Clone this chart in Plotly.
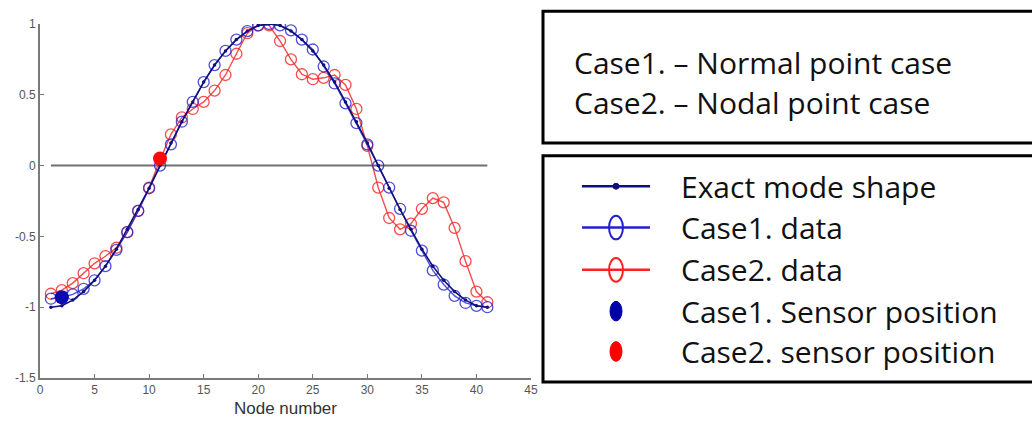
import plotly.graph_objects as go

# ---------------- data ----------------
nodes = list(range(1, 42))
exact_mode = [-1.00, -0.99, -0.95, -0.89, -0.81, -0.71, -0.59, -0.45, -0.31, -0.16,
              0.00, 0.16, 0.31, 0.45, 0.59, 0.71, 0.81, 0.89, 0.95, 0.99,
              1.00, 0.99, 0.95, 0.89, 0.81, 0.71, 0.59, 0.45, 0.31, 0.16,
              0.00, -0.16, -0.31, -0.45, -0.59, -0.71, -0.81, -0.89, -0.95, -0.99, -1.00]
case1_data = [-0.94, -0.93, -0.91, -0.87, -0.81, -0.71, -0.595, -0.47, -0.32, -0.16,
              0.00, 0.15, 0.31, 0.45, 0.59, 0.71, 0.81, 0.89, 0.95, 0.99,
              1.00, 0.99, 0.955, 0.89, 0.82, 0.70, 0.58, 0.44, 0.30, 0.15,
              0.00, -0.155, -0.305, -0.46, -0.60, -0.74, -0.84, -0.92, -0.97, -0.99, -1.00]
case2_data = [-0.905, -0.88, -0.83, -0.76, -0.69, -0.64, -0.58, -0.47, -0.32, -0.155,
              0.04, 0.22, 0.34, 0.40, 0.45, 0.53, 0.64, 0.79, 0.935, 0.99,
              0.99, 0.88, 0.75, 0.645, 0.61, 0.62, 0.64, 0.57, 0.40, 0.14,
              -0.155, -0.37, -0.45, -0.41, -0.305, -0.23, -0.26, -0.44, -0.675, -0.89, -0.965]
case1_sensor_x = [2]
case1_sensor_y = [-0.93]
case2_sensor_x = [11]
case2_sensor_y = [0.05]
zero_line_x = [1, 41]
zero_line_y = [0, 0]

x_ticks = [0, 5, 10, 15, 20, 25, 30, 35, 40, 45]
y_ticks = [-1.5, -1, -0.5, 0, 0.5, 1]
y_tick_text = ["-1.5", "-1", "-0.5", "0", "0.5", "1"]

info_lines = ["Case1. \u2013 Normal point case", "Case2. \u2013 Nodal point case"]
legend_names = ["Exact mode shape", "Case1. data", "Case2. data",
                "Case1. Sensor position", "Case2. sensor position"]

NAVY = "#10107a"
BLUE = "rgba(35,35,210,0.8)"
RED = "rgba(245,45,45,0.85)"

# ---------------- figure ----------------
W, H = 1032, 427
PL, PR, PT, PB = 40, 531, 24, 384


def px(xr):
    return (xr - PL) / (PR - PL)


def py(yr):
    return (PB - yr) / (PB - PT)


fig = go.Figure()

fig.add_trace(go.Scatter(x=zero_line_x, y=zero_line_y, mode="lines",
                         line=dict(color="#707070", width=2), showlegend=False, hoverinfo="skip"))
fig.add_trace(go.Scatter(x=nodes, y=case2_data, mode="lines+markers", name=legend_names[2],
                         line=dict(color=RED, width=1.4),
                         marker=dict(symbol="circle-open", size=11, color=RED, line=dict(width=1.3)),
                         showlegend=False))
fig.add_trace(go.Scatter(x=nodes, y=case1_data, mode="lines+markers", name=legend_names[1],
                         line=dict(color=BLUE, width=1.4),
                         marker=dict(symbol="circle-open", size=11, color=BLUE, line=dict(width=1.3)),
                         showlegend=False))
fig.add_trace(go.Scatter(x=nodes, y=exact_mode, mode="lines+markers", name=legend_names[0],
                         line=dict(color=NAVY, width=1.6),
                         marker=dict(symbol="circle", size=3.5, color=NAVY),
                         showlegend=False))
fig.add_trace(go.Scatter(x=case1_sensor_x, y=case1_sensor_y, mode="markers", name=legend_names[3],
                         marker=dict(symbol="circle", size=14, color="#0a0ab0"), showlegend=False))
fig.add_trace(go.Scatter(x=case2_sensor_x, y=case2_sensor_y, mode="markers", name=legend_names[4],
                         marker=dict(symbol="circle", size=14, color="#ff0a0a"), showlegend=False))

shapes = []
annotations = []

# info box and legend box
shapes.append(dict(type="rect", xref="paper", yref="paper",
                   x0=px(543), x1=px(1050), y0=py(145), y1=py(11),
                   line=dict(color="#000000", width=3)))
shapes.append(dict(type="rect", xref="paper", yref="paper",
                   x0=px(543), x1=px(1050), y0=py(388), y1=py(158),
                   line=dict(color="#000000", width=3)))

TXT_FONT = dict(family="Open Sans, Noto Sans, sans-serif", size=30, color="#111111")
for i, t in enumerate(info_lines):
    annotations.append(dict(text=t, xref="paper", yref="paper", x=px(572), y=py(63 + 41 * i),
                            xanchor="left", yanchor="middle", showarrow=False, font=TXT_FONT))

rows = [189, 231, 274, 316, 357]
for name, yc in zip(legend_names, rows):
    annotations.append(dict(text=name, xref="paper", yref="paper", x=px(679), y=py(yc),
                            xanchor="left", yanchor="middle", showarrow=False, font=TXT_FONT))

# legend samples
line_cols = [NAVY, "#2222cc", "#ff2020"]
for col, yc in zip(line_cols, rows[:3]):
    shapes.append(dict(type="line", xref="paper", yref="paper",
                       x0=px(582), x1=px(650), y0=py(yc), y1=py(yc),
                       line=dict(color=col, width=2.5)))
shapes.append(dict(type="circle", xref="paper", yref="paper",
                   x0=px(613), x1=px(619), y0=py(rows[0] + 3), y1=py(rows[0] - 3),
                   fillcolor=NAVY, line=dict(color=NAVY, width=1)))
for col, yc in zip(["#2222cc", "#ff2020"], rows[1:3]):
    shapes.append(dict(type="circle", xref="paper", yref="paper",
                       x0=px(609), x1=px(623), y0=py(yc + 12), y1=py(yc - 12),
                       line=dict(color=col, width=2)))
for col, yc in zip(["#0000a8", "#ff0000"], rows[3:5]):
    shapes.append(dict(type="circle", xref="paper", yref="paper",
                       x0=px(610), x1=px(622), y0=py(yc + 10), y1=py(yc - 10),
                       fillcolor=col, line=dict(color=col, width=1)))

fig.update_layout(
    width=W, height=H,
    margin=dict(l=PL, r=W - PR, t=PT, b=H - PB),
    paper_bgcolor="white", plot_bgcolor="white",
    shapes=shapes, annotations=annotations,
    showlegend=False,
    xaxis=dict(range=[0, 45], tickvals=x_ticks, showgrid=False, zeroline=False,
               showline=True, linecolor="#7a7a7a", linewidth=2,
               ticks="inside", ticklen=4, tickcolor="#7a7a7a", tickwidth=1,
               tickfont=dict(family="Liberation Sans, Arial, sans-serif", size=12, color="#555555"),
               title=dict(text="Node number", standoff=6,
                          font=dict(family="Liberation Sans, Arial, sans-serif", size=17, color="#333333"))),
    yaxis=dict(range=[-1.5, 1], tickvals=y_ticks, ticktext=y_tick_text, showgrid=False, zeroline=False,
               showline=True, linecolor="#7a7a7a", linewidth=2,
               ticks="inside", ticklen=4, tickcolor="#7a7a7a", tickwidth=1,
               tickfont=dict(family="Liberation Sans, Arial, sans-serif", size=12, color="#555555")),
)

# remove the default page margin so the figure sits exactly in the 1032x427 window
fig.write_html("out.html", config={"displayModeBar": False},
               post_script="document.body.style.margin='0';"
                           "document.documentElement.style.overflow='hidden';")
